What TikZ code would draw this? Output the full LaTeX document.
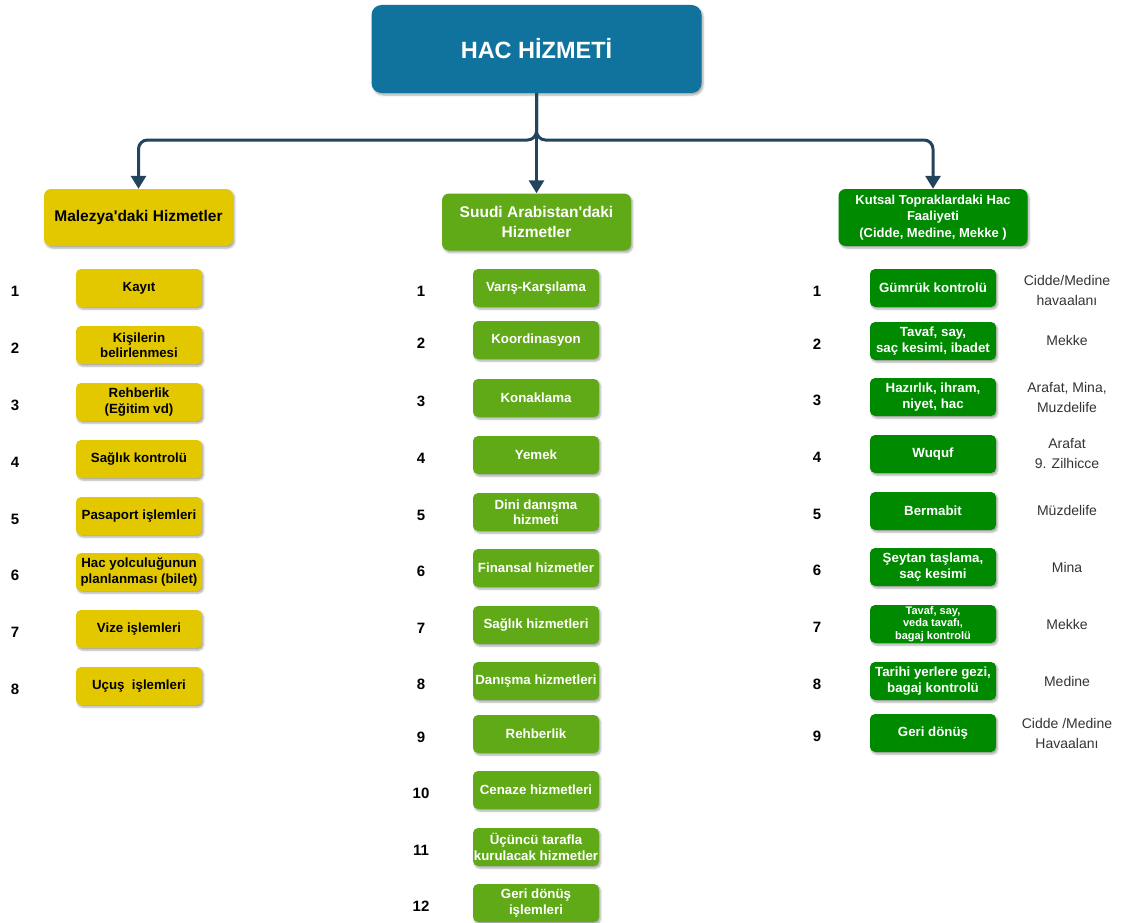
\documentclass[tikz,border=0pt]{standalone}
\usepackage{fontspec}
\setmainfont{Liberation Sans}[Ligatures=TeXOff]
\usetikzlibrary{arrows.meta,shadows.blur}
\definecolor{hacblue}{HTML}{10739E}
\definecolor{hacyellow}{HTML}{E3C800}
\definecolor{hacgreen}{HTML}{60A917}
\definecolor{hacdark}{HTML}{008A00}
\definecolor{hacline}{HTML}{23445D}
\definecolor{placegray}{HTML}{333333}

\begin{document}
\begin{tikzpicture}[x=1pt,y=-1pt,
  boxshadow/.style={blur shadow={shadow xshift=1.5pt,shadow yshift=-2pt,shadow blur radius=2pt,shadow opacity=35}},
  topbox/.style={fill=hacblue, rounded corners=10pt, minimum width=330pt, minimum height=88pt,
    inner sep=0pt, text=white, font=\bfseries\fontsize{23.5}{28}\selectfont, boxshadow},
  headbox/.style={rounded corners=7pt, minimum width=189pt, minimum height=57pt, align=center,
    inner sep=0pt, boxshadow},
  itembox/.style={rounded corners=5pt, minimum width=126pt, minimum height=38pt, align=center,
    inner sep=0pt, font=\bfseries\fontsize{13.3}{15.5}\selectfont, boxshadow},
  yitem/.style={itembox, fill=hacyellow, text=black},
  gitem/.style={itembox, fill=hacgreen, text=white},
  ditem/.style={itembox, fill=hacdark, text=white},
  num/.style={font=\bfseries\fontsize{15}{18}\selectfont},
  place/.style={font=\fontsize{14}{20}\selectfont, text=placegray, align=center},
  conn/.style={draw=hacline, line width=3pt, rounded corners=9pt, -{Triangle[width=15pt,length=13pt]}}
]
\useasboundingbox (0,0) rectangle (1121,923);

% title and the three main groups
\node[topbox] (top) at (536.5,49) {HAC HİZMETİ};
\node[headbox, fill=hacyellow, text=black, font=\bfseries\fontsize{15.5}{20}\selectfont]
  (lhead) at (138.5,217.5) {Malezya'daki Hizmetler};
\node[headbox, fill=hacgreen, text=white, font=\bfseries\fontsize{15.5}{20}\selectfont]
  (mhead) at (536.5,222) {Suudi Arabistan'daki\\Hizmetler};
\node[headbox, fill=hacdark, text=white, font=\bfseries\fontsize{13}{16.5}\selectfont]
  (rhead) at (933,217.5) {Kutsal Topraklardaki Hac\\Faaliyeti\\(Cidde, Medine, Mekke )};

% connectors
\coordinate (split) at (536.5,140);
\draw[conn] (top.south) -- (split) -| (lhead.north);
\draw[conn] (top.south) -- (split) -| (rhead.north);
\draw[conn] (top.south) -- (mhead.north);

% Malaysia column
\node[yitem] (l1) at (139,288) {Kayıt};
\node[yitem] (l2) at (139,345) {Kişilerin\\belirlenmesi};
\node[yitem] (l3) at (139,402) {Rehberlik\\(Eğitim vd)};
\node[yitem] (l4) at (139,459) {Sağlık kontrolü};
\node[yitem] (l5) at (139,516) {Pasaport işlemleri};
\node[yitem] (l6) at (139,572) {Hac yolculuğunun\\planlanması (bilet)};
\node[yitem] (l7) at (139,629) {Vize işlemleri};
\node[yitem] (l8) at (139,686) {Uçuş \ işlemleri};
\foreach \n/\y in {1/288,2/345,3/402,4/459,5/516,6/572,7/629,8/686}
  \node[num] (ln\n) at (15,\y+3) {\n};

% Saudi Arabia column
\node[gitem] (m1) at (536,288) {Varış-Karşılama};
\node[gitem] (m2) at (536,340) {Koordinasyon};
\node[gitem] (m3) at (536,398) {Konaklama};
\node[gitem] (m4) at (536,455) {Yemek};
\node[gitem] (m5) at (536,512) {Dini danışma\\hizmeti};
\node[gitem] (m6) at (536,568) {Finansal hizmetler};
\node[gitem] (m7) at (536,625) {Sağlık hizmetleri};
\node[gitem] (m8) at (536,681) {Danışma hizmetleri};
\node[gitem] (m9) at (536,734) {Rehberlik};
\node[gitem] (m10) at (536,790) {Cenaze hizmetleri};
\node[gitem] (m11) at (536,847) {Üçüncü tarafla\\kurulacak hizmetler};
\node[gitem] (m12) at (536,903) {Geri dönüş\\işlemleri};
\foreach \n/\y in {1/288,2/340,3/398,4/455,5/512,6/568,7/625,8/681,9/734,10/790,11/847,12/903}
  \node[num] (mn\n) at (421,\y+3) {\n};

% Holy land column
\node[ditem] (r1) at (933,288) {Gümrük kontrolü};
\node[ditem] (r2) at (933,341) {Tavaf, say,\\saç kesimi, ibadet};
\node[ditem] (r3) at (933,397) {Hazırlık, ihram,\\niyet, hac};
\node[ditem] (r4) at (933,454) {Wuquf};
\node[ditem] (r5) at (933,511) {Bermabit};
\node[ditem] (r6) at (933,567) {Şeytan taşlama,\\saç kesimi};
\node[ditem, font=\bfseries\fontsize{11}{12.5}\selectfont] (r7) at (933,624) {Tavaf, say,\\veda tavafı,\\bagaj kontrolü};
\node[ditem] (r8) at (933,681) {Tarihi yerlere gezi,\\bagaj kontrolü};
\node[ditem] (r9) at (933,733) {Geri dönüş};
\foreach \n/\y in {1/288,2/341,3/397,4/454,5/511,6/567,7/624,8/681,9/733}
  \node[num] (rn\n) at (817,\y+3) {\n};

% places
\node[place] (p1) at (1067,290) {Cidde/Medine\\havaalanı};
\node[place] (p2) at (1067,340) {Mekke};
\node[place] (p3) at (1067,397) {Arafat, Mina,\\Muzdelife};
\node[place] (p4) at (1067,453) {Arafat\\9. Zilhicce};
\node[place] (p5) at (1067,510) {Müzdelife};
\node[place] (p6) at (1067,567) {Mina};
\node[place] (p7) at (1067,624) {Mekke};
\node[place] (p8) at (1067,681) {Medine};
\node[place] (p9) at (1067,733) {Cidde /Medine\\Havaalanı};
\end{tikzpicture}
\end{document}
